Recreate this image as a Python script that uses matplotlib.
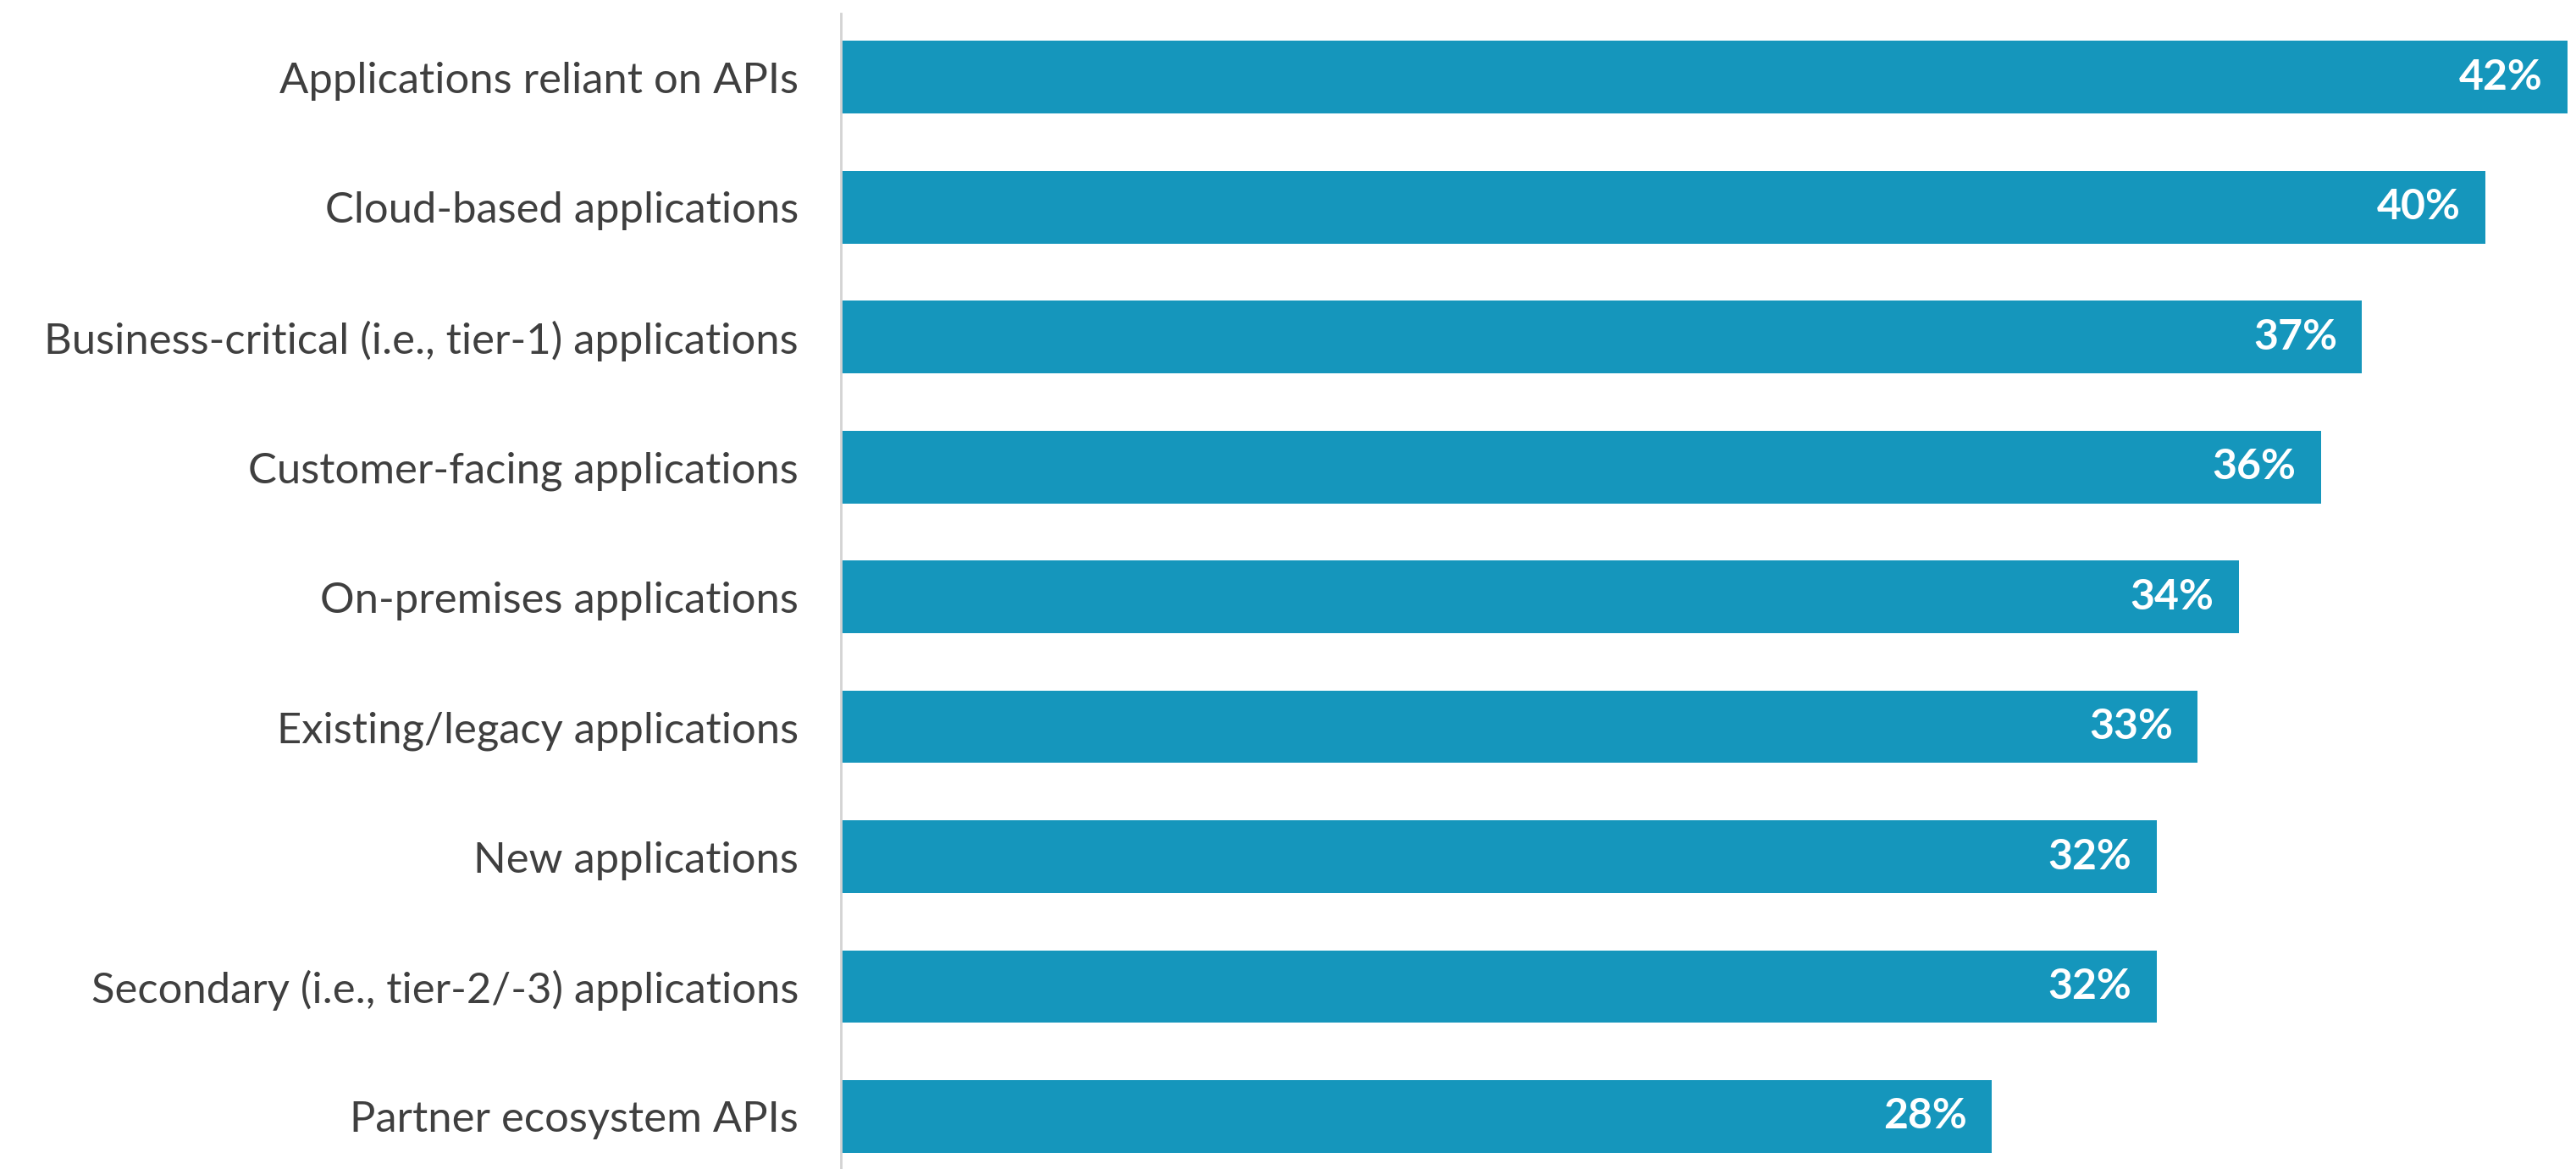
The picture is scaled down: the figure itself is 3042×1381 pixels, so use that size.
import matplotlib
matplotlib.use("Agg")
import matplotlib.pyplot as plt

categories = ["Applications reliant on APIs",
              "Cloud-based applications",
              "Business-critical (i.e., tier-1) applications",
              "Customer-facing applications",
              "On-premises applications",
              "Existing/legacy applications",
              "New applications",
              "Secondary (i.e., tier-2/-3) applications",
              "Partner ecosystem APIs"]
values = [42, 40, 37, 36, 34, 33, 32, 32, 28]

bar_color = "#1596bc"
text_color = "#3f3f3f"

plt.rcParams['font.family'] = ['Lato', 'DejaVu Sans']

fig = plt.figure(figsize=(30.42, 13.81), dpi=100)
ax = fig.add_axes([993 / 3042, 0.0, (3032 - 993) / 3042, 1 - 16 / 1381])

y = list(range(len(categories)))
ax.barh(y, values, height=0.56, color=bar_color)

for yi, v in zip(y, values):
    ax.text(v - 0.6, yi, "%d%%" % v, ha="right", va="center",
            color="white", fontsize=36, fontweight="bold")

ax.set_xlim(0, 42)
ax.set_ylim(8.404, -0.489)
ax.set_yticks(y)
ax.set_yticklabels(categories, fontsize=36.5, color=text_color)
ax.tick_params(axis="y", length=0, pad=36)
ax.set_xticks([])
for s in ["top", "right", "bottom"]:
    ax.spines[s].set_visible(False)
ax.spines["left"].set_color("#d3d3d3")
ax.spines["left"].set_linewidth(2)

fig.savefig("out.png", dpi=100)
